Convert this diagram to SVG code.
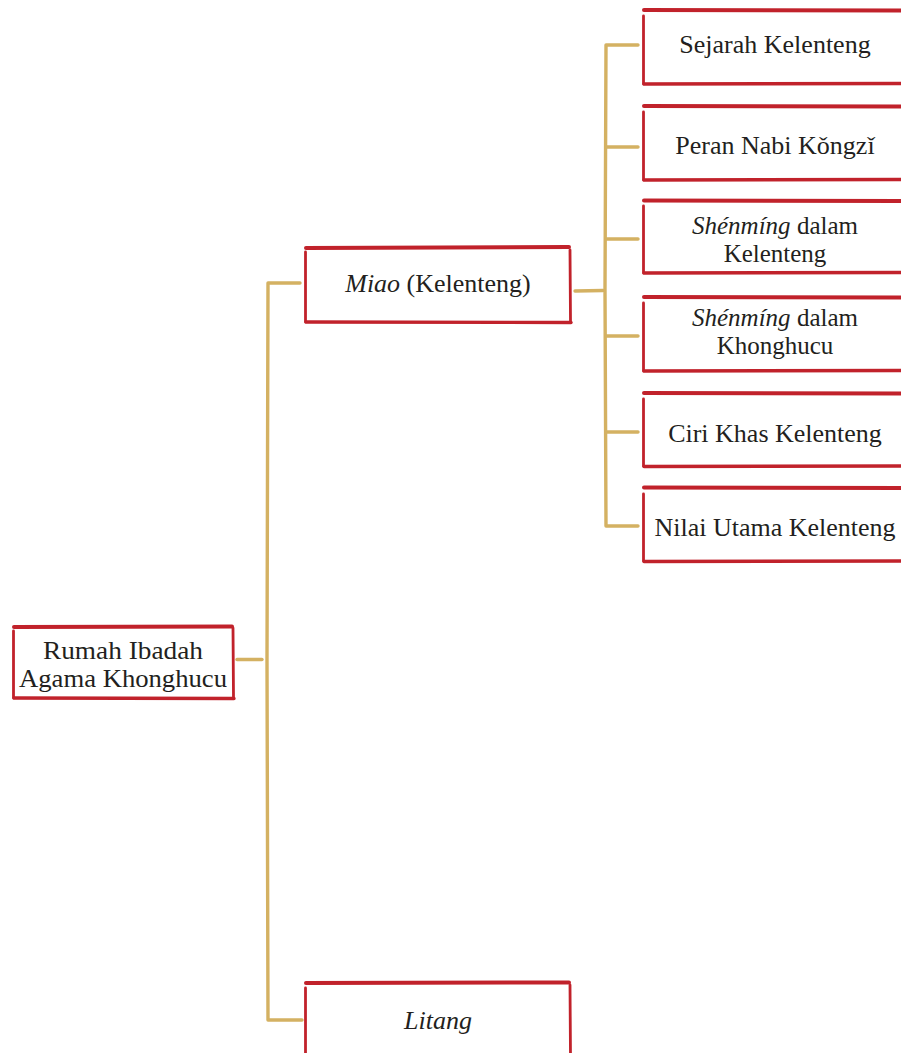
<svg xmlns="http://www.w3.org/2000/svg" width="901" height="1053" viewBox="0 0 901 1053">
<style>
.bg{fill:#ffffff}
.top{fill:none;stroke:#c1222b;stroke-width:4;stroke-linecap:round}
.side{fill:none;stroke:#c1222b;stroke-width:2.8;stroke-linecap:round}
.bot{fill:none;stroke:#c1222b;stroke-width:3.4;stroke-linecap:round}
.con{fill:none;stroke:#d4b162;stroke-width:3.4;stroke-linecap:round;stroke-linejoin:round}
text{font-family:"Liberation Serif","DejaVu Serif",serif;font-size:26px;fill:#231f20;text-anchor:middle}
.two{font-size:25px}
.it{font-style:italic}
</style>
<rect class="bg" x="0" y="0" width="901" height="1053"/>
<g id="connectors">
<path class="con" d="M237 659.5 L262 659.5"/>
<path class="con" d="M300 283 L268 283 L267 660 L268 1020 L302 1020"/>
<path class="con" d="M575 291 L603 290.5"/>
<path class="con" d="M638 45 L606 45 L605 290 L606 526 L638 526"/>
<path class="con" d="M606 147 L638 147"/>
<path class="con" d="M606 239 L638 239"/>
<path class="con" d="M606 336 L638 336"/>
<path class="con" d="M606 432 L638 432"/>
</g>
<g id="root">
<path class="top" d="M14 627 L232 626.5"/>
<path class="side" d="M13.5 631 L13.5 698"/>
<path class="bot" d="M14 698 L234 698.5"/>
<path class="side" d="M233 628 L233.5 697"/>
<text class="two" x="123" y="659" textLength="160" lengthAdjust="spacingAndGlyphs">Rumah Ibadah</text>
<text class="two" x="123" y="687" textLength="208" lengthAdjust="spacingAndGlyphs">Agama Khonghucu</text>
</g>
<g id="miao">
<path class="top" d="M306 248 L569 247"/>
<path class="side" d="M305.5 252 L305.5 322"/>
<path class="bot" d="M306 322 L571 322.5"/>
<path class="side" d="M570 250 L570.5 321"/>
<text x="438" y="292"><tspan class="it">Miao</tspan> (Kelenteng)</text>
</g>
<g id="litang">
<path class="top" d="M306 983 L569 982.5"/>
<path class="side" d="M305.5 988 L305.5 1056"/>
<path class="side" d="M570 985 L570.5 1056"/>
<text x="438" y="1029" class="it">Litang</text>
</g>
<g id="sejarah">
<path class="top" d="M644 10 L905 10.5"/>
<path class="side" d="M643.5 16 L643.5 84"/>
<path class="bot" d="M644 84 L905 83.5"/>
<text x="775" y="53">Sejarah Kelenteng</text>
</g>
<g id="peran">
<path class="top" d="M644 106 L905 106.5"/>
<path class="side" d="M643.5 112 L643.5 180"/>
<path class="bot" d="M644 180 L905 179.5"/>
<text x="775" y="154">Peran Nabi Kǒngzǐ</text>
</g>
<g id="shenming-kelenteng">
<path class="top" d="M644 200.5 L905 201"/>
<path class="side" d="M643.5 206 L643.5 273"/>
<path class="bot" d="M644 273 L905 272.5"/>
<text class="two" x="775" y="234"><tspan class="it">Shénmíng</tspan> dalam</text>
<text class="two" x="775" y="262">Kelenteng</text>
</g>
<g id="shenming-khonghucu">
<path class="top" d="M644 297 L905 297.5"/>
<path class="side" d="M643.5 303 L643.5 371"/>
<path class="bot" d="M644 371 L905 370.5"/>
<text class="two" x="775" y="326"><tspan class="it">Shénmíng</tspan> dalam</text>
<text class="two" x="775" y="354">Khonghucu</text>
</g>
<g id="ciri">
<path class="top" d="M644 393 L905 393.5"/>
<path class="side" d="M643.5 399 L643.5 466"/>
<path class="bot" d="M644 466.5 L905 466"/>
<text x="775" y="442">Ciri Khas Kelenteng</text>
</g>
<g id="nilai">
<path class="top" d="M644 487.5 L905 488"/>
<path class="side" d="M643.5 494 L643.5 561"/>
<path class="bot" d="M644 561.5 L905 561"/>
<text x="775" y="536">Nilai Utama Kelenteng</text>
</g>
</svg>
